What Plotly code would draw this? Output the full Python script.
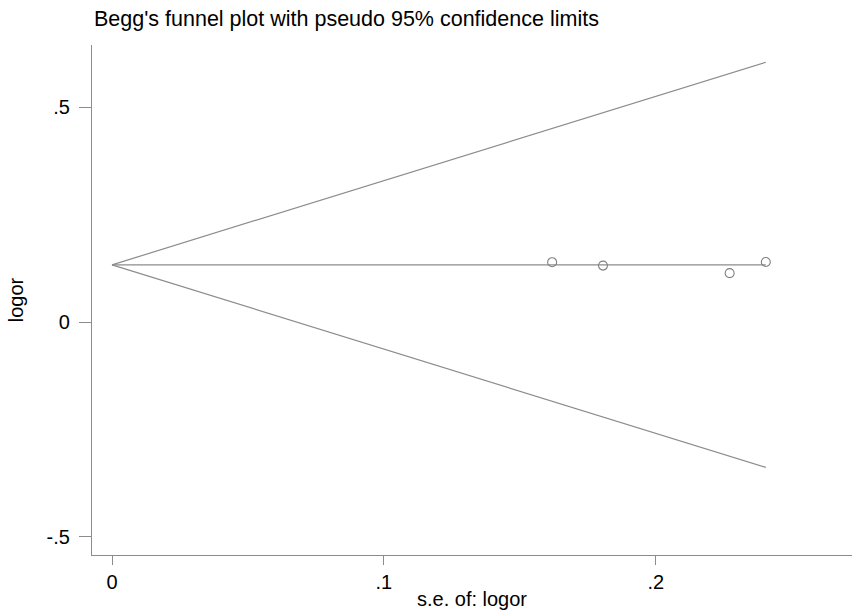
import plotly.graph_objects as go

# Data
se_logor = [0.1619, 0.1806, 0.2272, 0.2405]
logor = [0.1395, 0.1316, 0.1140, 0.1400]
pooled_logor = 0.1333
z95 = 1.96

x_tick_vals = [0, 0.1, 0.2]
x_tick_text = ["0", ".1", ".2"]
y_tick_vals = [-0.5, 0, 0.5]
y_tick_text = ["-.5", "0", ".5"]

se_max = max(se_logor)
line_x = [0, se_max]
upper_y = [pooled_logor, pooled_logor + z95 * se_max]
lower_y = [pooled_logor, pooled_logor - z95 * se_max]
mid_y = [pooled_logor, pooled_logor]

line_color = "#8c8c8c"
font = "Liberation Sans, Arial, sans-serif"

W, H = 852, 610

fig = go.Figure()
for yy in (upper_y, mid_y, lower_y):
    fig.add_trace(go.Scatter(x=line_x, y=yy, mode="lines",
                             line=dict(color=line_color, width=1.2),
                             hoverinfo="skip", showlegend=False))
fig.add_trace(go.Scatter(x=se_logor, y=logor, mode="markers",
                         marker=dict(symbol="circle-open", size=9,
                                     color="#808080", line=dict(width=1.1)),
                         showlegend=False))

fig.update_layout(
    width=W, height=H,
    margin=dict(l=92, r=0, t=45, b=55),
    paper_bgcolor="white", plot_bgcolor="white",
    font=dict(family=font, size=20, color="black"),
    title=dict(text="Begg's funnel plot with pseudo 95% confidence limits",
               x=94 / W, xanchor="left", y=1 - 18 / H, yanchor="middle",
               font=dict(size=21.5, family=font, color="black")),
    showlegend=False,
)
fig.update_xaxes(range=[-0.00736, 0.2722], showgrid=False, zeroline=False,
                 showline=True, linecolor="#8c8c8c", linewidth=1.2,
                 ticks="outside", ticklen=9, tickcolor="#8c8c8c", tickwidth=1,
                 tickvals=x_tick_vals, ticktext=x_tick_text,
                 tickfont=dict(size=20), automargin=False,
                 title=dict(text="s.e. of: logor", standoff=0, font=dict(size=20)))
fig.update_yaxes(range=[-0.5419, 0.6449], showgrid=False, zeroline=False,
                 showline=True, linecolor="#8c8c8c", linewidth=1.2,
                 ticks="outside", ticklen=12, tickcolor="#8c8c8c", tickwidth=1,
                 tickvals=y_tick_vals, ticktext=y_tick_text,
                 tickfont=dict(size=20), ticklabelstandoff=5, automargin=False,
                 title=dict(text="logor", standoff=17, font=dict(size=20)))

fig.write_html(
    "out.html",
    config={"displayModeBar": False},
    post_script="document.body.style.margin='0';document.body.style.overflow='hidden';",
)
